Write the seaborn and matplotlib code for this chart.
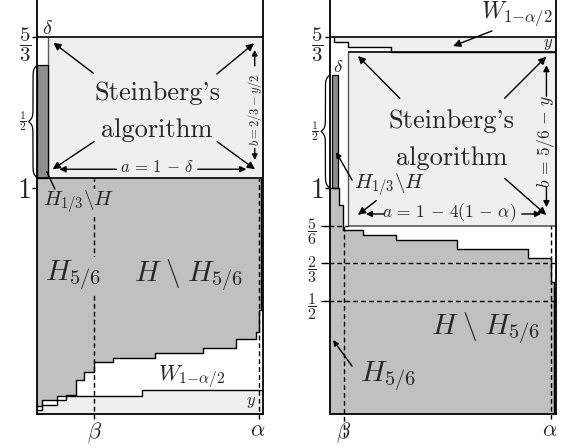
import matplotlib
matplotlib.use('Agg')
import matplotlib.pyplot as plt
import seaborn as sns
import numpy as np

# ---------------- data (schematic units: 1 unit = panel width) ----------------
Y_TOP = 5 / 3
Y_MAX = 414 / 226

# left panel
L_delta = 0.046
L_box_bottom = 1.044
L_bar_height = 0.5
L_beta = 0.252
L_alpha = 0.982
L_H_right = 0.991
L_h_x = [0.0, 0.022, 0.086, 0.125, 0.170, 0.208, 0.252, 0.336, 0.522, 0.731, 0.879, 0.969, 0.979, 0.991]
L_h_y = [0.037, 0.062, 0.080, 0.084, 0.150, 0.187, 0.230, 0.249, 0.271, 0.291, 0.334, 0.363, 0.458]
L_w_x = [0.0, 0.022, 0.086, 0.125, 0.462, 1.0]
L_w_y = [0.018, 0.038, 0.062, 0.081, 0.106]
L_yticks = [1.0, 5 / 3]
L_yticklabels = [r'$1$', r'$\dfrac{5}{3}$']

# right panel
R_bar_x = 0.011
R_bar_w = 0.027
R_bar_bottom = 1.0
R_bar_height = 0.5
R_box_left = 0.082
R_box_top = 1.603
R_box_bottom = 5 / 6
R_beta = 0.063
R_alpha = 0.981
R_H_right = 0.992
R_h_x = [0.0, 0.041, 0.061, 0.147, 0.292, 0.564, 0.878, 0.981, 0.992]
R_h_y = [1.0, 0.923, 0.812, 0.792, 0.770, 0.729, 0.689, 0.583]
R_w_x = [0.020, 0.082, 0.270, 1.0]
R_w_y = [1.647, 1.623, 1.603]
R_yticks = [0.5, 2 / 3, 5 / 6, 1.0, 5 / 3]
R_yticklabels = [r'$\dfrac{1}{2}$', r'$\dfrac{2}{3}$', r'$\dfrac{5}{6}$', r'$1$', r'$\dfrac{5}{3}$']

GRAY = '#c0c0c0'
LIGHT = '#efefef'
DARK = '#8e8e8e'
BOXEDGE = '#5a5a5a'
DASH = (0, (3.5, 2.2))

sns.set_style('white')
plt.rcParams['font.family'] = ['cmr10', 'DejaVu Serif']
plt.rcParams['mathtext.fontset'] = 'cm'
plt.rcParams['axes.unicode_minus'] = False

fig = plt.figure(figsize=(5.66, 4.47), dpi=100)
axL = fig.add_axes([37.3 / 566, 33 / 447, 226 / 566, 414 / 447])
axR = fig.add_axes([329.7 / 566, 33 / 447, 226 / 566, 414 / 447])


def setup(ax, ticks, labels, sizes, pads):
    ax.set_xlim(0, 1)
    ax.set_ylim(0, Y_MAX)
    ax.set_facecolor('white')
    ax.spines['top'].set_visible(False)
    for s in ['left', 'right', 'bottom']:
        ax.spines[s].set_color('black')
        ax.spines[s].set_linewidth(1.3)
        ax.spines[s].set_zorder(10)
    ax.set_xticks([])
    ax.set_yticks(ticks, labels=labels)
    ax.tick_params(axis='y', left=True, length=3.5, width=1, direction='out', color='black')
    for t, sz, p in zip(ax.yaxis.get_major_ticks(), sizes, pads):
        t.label1.set_fontsize(sz)
        t.set_pad(p)


def steps_outline(ax, xs, ys):
    yy = list(ys) + [ys[-1]]
    sns.lineplot(x=xs, y=yy, ax=ax, drawstyle='steps-post', color='black', lw=1.0,
                 estimator=None, sort=False, legend=False, zorder=4)


def arrow(ax, head, tail, ms=11):
    ax.annotate('', xy=head, xytext=tail,
                arrowprops=dict(arrowstyle='-|>', color='black', lw=1.0, mutation_scale=ms,
                                shrinkA=0, shrinkB=0), zorder=6, annotation_clip=False)


def brace(ax, x, y0, y1, w, k=110):
    L = y1 - y0
    s = np.linspace(0, L / 2, 120)
    f = 1 / (1 + np.exp(-k * (s - s[0]))) + 1 / (1 + np.exp(-k * (s - s[-1])))
    f = (f - f.min()) / (f.max() - f.min())
    g = np.concatenate([f, f[::-1]])
    ys = np.concatenate([y0 + s, y0 + L / 2 + s])
    ax.plot(x - w * g, ys, color='black', lw=0.9, clip_on=False, zorder=6)


W_LABEL = r'$W_{1{-}\alpha/2}$'
HH_LABEL = r'$H\;\backslash\;H_{5/6}$'

# ======================= LEFT PANEL =======================
ax = axL
setup(ax, L_yticks, L_yticklabels, [20, 15], [1.0, 1.0])
# Steinberg box
ax.fill_between([L_delta, 1], L_box_bottom, Y_TOP, color=LIGHT, lw=0, zorder=1)
ax.vlines(L_delta, L_box_bottom, Y_TOP, color=BOXEDGE, lw=1.0, zorder=3)
# H_{1/3} \ H bar
ax.bar(0, L_bar_height, bottom=L_box_bottom, width=L_delta, align='edge',
       color=DARK, edgecolor='black', linewidth=0.9, zorder=3)
# H region
L_h_ext = L_h_y + [L_h_y[-1]]
ax.fill_between(L_h_x, L_h_ext, L_box_bottom, step='post', color=GRAY, lw=0, zorder=1)
steps_outline(ax, L_h_x, L_h_y)
ax.vlines(L_H_right, L_h_y[-1], L_box_bottom, color='black', lw=1.0, zorder=4)
# W strip (y)
L_w_ext = L_w_y + [L_w_y[-1]]
ax.fill_between(L_w_x, 0, L_w_ext, step='post', color=LIGHT, lw=0, zorder=1)
steps_outline(ax, L_w_x, L_w_y)
# horizontal lines
ax.hlines([L_box_bottom, Y_TOP], 0, 1, color='black', lw=1.2, zorder=5)
# dashed beta / alpha
ax.vlines([L_beta, L_alpha], -0.02, L_box_bottom, color='black', lw=1.0,
          linestyles=[DASH], zorder=4, clip_on=False)
# brace
brace(ax, 0.0, L_box_bottom, L_box_bottom + L_bar_height, 0.038)
ax.text(-0.062, L_box_bottom + L_bar_height / 2, r'$\dfrac{1}{2}$', fontsize=8.5,
        ha='center', va='center', clip_on=False)
# texts
ax.text(0.044, 1.702, r'$\delta$', fontsize=14.5, ha='center', va='center')
ax.text(0.53, 1.389, "Steinberg's", fontsize=19, ha='center', va='baseline', zorder=7)
ax.text(0.53, 1.227, 'algorithm', fontsize=19, ha='center', va='baseline', zorder=7)
arrow(ax, (0.071, 1.643), (0.248, 1.508))
arrow(ax, (0.959, 1.640), (0.794, 1.504))
arrow(ax, (0.068, 1.083), (0.251, 1.205))
arrow(ax, (0.963, 1.083), (0.796, 1.205))
ax.text(0.53, 1.094, r'$a\,=\,1\,-\,\delta$', fontsize=12, ha='center', va='center', zorder=7)
arrow(ax, (0.098, 1.083), (0.35, 1.083), ms=9)
arrow(ax, (0.925, 1.083), (0.71, 1.083), ms=9)
ax.text(0.962, 1.345, r'$b = 2/3 - y/2$', fontsize=9, rotation=90, ha='center', va='center', zorder=7)
arrow(ax, (0.962, 1.611), (0.962, 1.540), ms=8)
arrow(ax, (0.962, 1.124), (0.962, 1.175), ms=8)
ax.text(0.025, 0.935, r'$H_{1/3}\backslash H$', fontsize=15, ha='left', va='center', zorder=7,
        bbox=dict(facecolor=GRAY, edgecolor='none', pad=0.5))
ax.plot([0.078, 0.042], [0.995, 1.072], color='black', lw=1.0, zorder=8)
ax.text(0.160, 0.61, r'$H_{5/6}$', fontsize=21, ha='center', va='center', zorder=7,
        bbox=dict(facecolor=GRAY, edgecolor='none', pad=1.5))
ax.text(0.667, 0.61, HH_LABEL, fontsize=21, ha='center', va='center', zorder=7)
ax.text(0.682, 0.165, W_LABEL, fontsize=16, ha='center', va='center', zorder=7)
ax.text(0.946, 0.052, r'$y$', fontsize=12, ha='center', va='center', zorder=7)
ax.text(L_beta, -0.082, r'$\beta$', fontsize=16, ha='center', va='center', clip_on=False)
ax.text(L_alpha - 0.008, -0.072, r'$\alpha$', fontsize=16, ha='center', va='center', clip_on=False)

# ======================= RIGHT PANEL =======================
ax = axR
setup(ax, R_yticks, R_yticklabels, [11.5, 11.5, 11.5, 20, 15], [5.5, 5.5, 5.5, 0.5, 1.0])
# top W strip
R_w_ext = R_w_y + [R_w_y[-1]]
ax.fill_between(R_w_x, R_w_ext, Y_TOP, step='post', color=LIGHT, lw=0, zorder=1)
steps_outline(ax, R_w_x, R_w_y)
ax.vlines(R_w_x[0], R_w_y[0], Y_TOP, color='black', lw=1.0, zorder=4)
# Steinberg box
ax.fill_between([R_box_left, 1], R_box_bottom, R_box_top, color=LIGHT, lw=0, zorder=1)
ax.vlines(R_box_left, R_box_bottom, R_box_top, color=BOXEDGE, lw=1.0, zorder=3)
ax.hlines(R_box_bottom, R_box_left, 1, color=BOXEDGE, lw=1.2, zorder=3)
ax.hlines(R_box_top, R_box_left, 1, color='black', lw=1.2, zorder=5)
# H_{1/3} \ H bar
ax.bar(R_bar_x, R_bar_height, bottom=R_bar_bottom, width=R_bar_w, align='edge',
       color=DARK, edgecolor='black', linewidth=0.9, zorder=3)
# H region
R_h_ext = R_h_y + [R_h_y[-1]]
ax.fill_between(R_h_x, 0, R_h_ext, step='post', color=GRAY, lw=0, zorder=1)
steps_outline(ax, R_h_x, R_h_y)
ax.vlines(R_H_right, 0, R_h_y[-1], color='black', lw=1.0, zorder=4)
# 5/3 line
ax.hlines(Y_TOP, 0, 1, color='black', lw=1.2, zorder=5)
# dashed guides
ax.hlines([0.5, 2 / 3], -0.038, 1, color='black', lw=1.0, linestyles=[DASH], zorder=4, clip_on=False)
ax.hlines(5 / 6, -0.038, R_box_left, color='black', lw=1.0, linestyles=[DASH], zorder=4, clip_on=False)
ax.vlines(R_beta, -0.1, R_box_bottom, color='black', lw=1.0,
          linestyles=[DASH], zorder=4, clip_on=False)
ax.vlines(R_alpha, -0.02, R_box_bottom, color='black', lw=1.0,
          linestyles=[DASH], zorder=4, clip_on=False)
# brace
brace(ax, 0.0, R_bar_bottom, R_bar_bottom + R_bar_height, 0.038)
ax.text(-0.065, R_bar_bottom + R_bar_height / 2, r'$\dfrac{1}{2}$', fontsize=8.5,
        ha='center', va='center', clip_on=False)
# texts
ax.text(0.829, 1.772, W_LABEL, fontsize=17, ha='center', va='center')
arrow(ax, (0.546, 1.628), (0.718, 1.695))
ax.text(0.966, 1.637, r'$y$', fontsize=12, ha='center', va='center', zorder=7)
ax.text(0.037, 1.535, r'$\delta$', fontsize=13.5, ha='center', va='center', zorder=7)
ax.text(0.538, 1.265, "Steinberg's", fontsize=19, ha='center', va='baseline', zorder=7)
ax.text(0.538, 1.102, 'algorithm', fontsize=19, ha='center', va='baseline', zorder=7)
arrow(ax, (0.125, 1.584), (0.310, 1.397))
arrow(ax, (0.958, 1.581), (0.774, 1.397))
arrow(ax, (0.125, 0.881), (0.206, 0.944))
arrow(ax, (0.958, 0.881), (0.774, 1.043))
ax.text(0.530, 0.890, r'$a\,=\,1\,-\,4(1\,-\,\alpha)$', fontsize=12.5, ha='center', va='center', zorder=7)
arrow(ax, (0.160, 0.885), (0.240, 0.885), ms=9)
arrow(ax, (0.935, 0.885), (0.850, 0.885), ms=9)
ax.text(0.959, 1.205, r'$b\,=\,5/6\,-\,y$', fontsize=12.5, rotation=90, ha='center', va='center', zorder=7)
arrow(ax, (0.959, 1.544), (0.959, 1.405), ms=9)
arrow(ax, (0.959, 0.915), (0.959, 1.005), ms=9)
ax.text(0.108, 1.013, r'$H_{1/3}\backslash H$', fontsize=15, ha='left', va='center', zorder=7)
arrow(ax, (0.028, 1.159), (0.099, 1.035), ms=8)
ax.text(0.689, 0.376, HH_LABEL, fontsize=21, ha='center', va='center', zorder=7)
ax.text(0.134, 0.165, r'$H_{5/6}$', fontsize=21, ha='left', va='center', zorder=7)
arrow(ax, (0.015, 0.327), (0.099, 0.212), ms=8)
ax.text(R_beta, -0.082, r'$\beta$', fontsize=16, ha='center', va='center', clip_on=False)
ax.text(R_alpha - 0.008, -0.072, r'$\alpha$', fontsize=16, ha='center', va='center', clip_on=False)

fig.savefig('out.png', dpi=100)
